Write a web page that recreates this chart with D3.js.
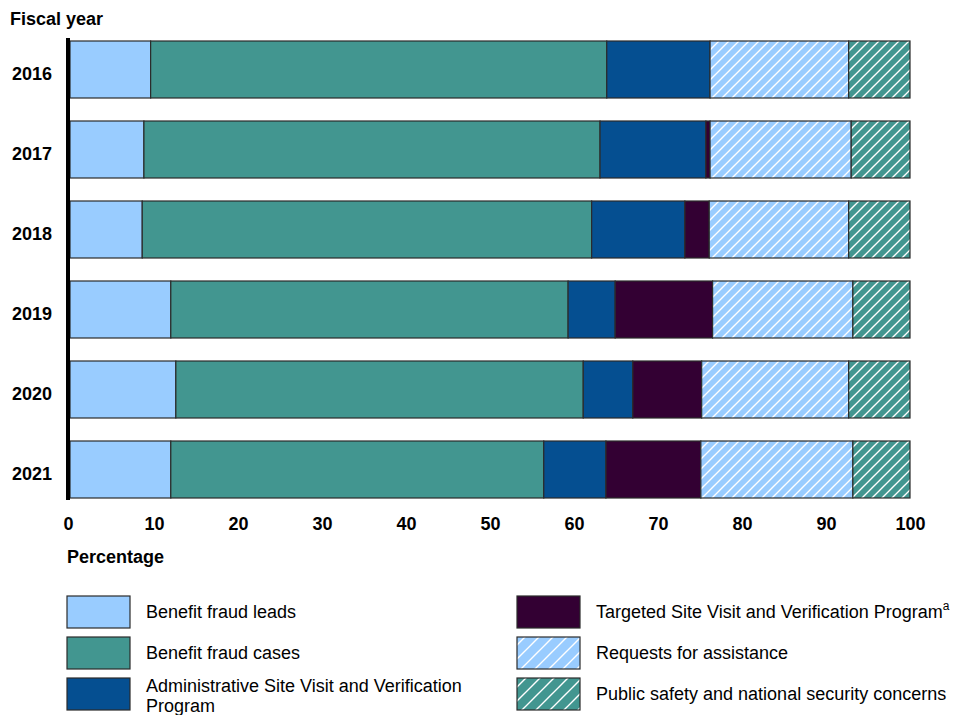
<!DOCTYPE html>
<html><head><meta charset="utf-8">
<script src="https://cdn.jsdelivr.net/npm/d3@7"></script>
<style>body{margin:0;background:#fff;} text{font-family:"Liberation Sans",Arial,sans-serif;}</style>
</head><body><svg id="c" width="978" height="715"></svg>
<script>
const years = ["2016","2017","2018","2019","2020","2021"];
const seriesNames = ["Benefit fraud leads","Benefit fraud cases","Administrative Site Visit and Verification Program","Targeted Site Visit and Verification Program","Requests for assistance","Public safety and national security concerns"];
const fraudLeads = [9.6, 8.8, 8.6, 12.0, 12.6, 12.0];
const fraudCases = [54.3, 54.3, 53.5, 47.3, 48.5, 44.4];
const adminSite = [12.3, 12.6, 11.1, 5.6, 5.9, 7.4];
const targetedSite = [0.0, 0.5, 2.9, 11.6, 8.2, 11.3];
const requestsAssist = [16.5, 16.8, 16.6, 16.7, 17.5, 18.1];
const publicSafety = [7.3, 7.0, 7.3, 6.8, 7.3, 6.8];
const xTicks = [0,10,20,30,40,50,60,70,80,90,100];

const colors = ["#99ccff","#429690","#054f91","#330033","#99ccff","#429690"];
const hatched = [false,false,false,false,true,true];
const seriesVals = [fraudLeads, fraudCases, adminSite, targetedSite, requestsAssist, publicSafety];

const svg = d3.select("#c");
const defs = svg.append("defs");
function makePattern(id, color, s){
  const p = defs.append("pattern").attr("id",id).attr("patternUnits","userSpaceOnUse")
    .attr("width",s).attr("height",s);
  p.append("rect").attr("width",s).attr("height",s).attr("fill",color);
  p.append("path").attr("d",`M-1,1 l2,-2 M0,${s} l${s},-${s} M${s-1},${s+1} l2,-2`)
    .attr("stroke","#fff").attr("stroke-width",1.4);
}
[4,5].forEach(i=>{ makePattern("h"+i, colors[i], 10); makePattern("L"+i, colors[i], 14); });

const table = years.map((y,j)=>{
  const row = {year:y};
  seriesNames.forEach((s,i)=>row[s]=seriesVals[i][j]);
  return row;
});
const stack = d3.stack().keys(seriesNames)(table);

const x = d3.scaleLinear().domain([0,100]).range([70,910]);
const y = d3.scaleBand().domain(years).range([41,498]).paddingInner(0.2875).paddingOuter(0);

stack.forEach((layer,i)=>{
  svg.append("g").selectAll("rect").data(layer.filter(d=>d[1]-d[0]>0)).join("rect")
    .attr("x",d=>x(d[0])).attr("width",d=>x(d[1])-x(d[0]))
    .attr("y",d=>y(d.data.year)).attr("height",y.bandwidth())
    .attr("fill",hatched[i]?"url(#h"+i+")":colors[i])
    .attr("stroke","#2b2b2b").attr("stroke-width",1.2);
});

// axis line
svg.append("line").attr("x1",68).attr("x2",68).attr("y1",38).attr("y2",500)
  .attr("stroke","#000").attr("stroke-width",4);

// x tick labels
const xAxis = d3.axisBottom(x).tickValues(xTicks).tickSize(0).tickFormat(d3.format("d"));
const gx = svg.append("g").attr("transform","translate(0,514)").call(xAxis);
gx.select(".domain").remove();
gx.selectAll("text").attr("font-size",18).attr("font-weight","bold").attr("fill","#000")
  .attr("font-family","Liberation Sans, Arial, sans-serif");
gx.selectAll(".tick").filter(d=>d===0).select("text").attr("dx",-2);

// y labels
const yAxis = d3.axisLeft(y).tickSize(0);
const gy = svg.append("g").attr("transform","translate(52,5)").call(yAxis);
gy.select(".domain").remove();
gy.selectAll("text").attr("font-size",18).attr("font-weight","bold").attr("fill","#000")
  .attr("font-family","Liberation Sans, Arial, sans-serif").attr("x",0);

svg.append("text").attr("x",10).attr("y",25).attr("font-size",18).attr("font-weight","bold").text("Fiscal year");
svg.append("text").attr("x",67).attr("y",563).attr("font-size",18).attr("font-weight","bold").text("Percentage");

// legend
const legPos = [[67,596],[67,637],[67,678],[517,596],[517,637],[517,678]];
seriesNames.forEach((s,i)=>{
  const [lx,ly] = legPos[i];
  svg.append("rect").attr("x",lx).attr("y",ly).attr("width",63).attr("height",32)
    .attr("fill",hatched[i]?"url(#L"+i+")":colors[i]).attr("stroke","#2b2b2b").attr("stroke-width",1.2);
  const t = svg.append("text").attr("x",lx+79).attr("font-size",18).attr("fill","#000");
  if(i===2){
    t.attr("y",ly+14);
    t.append("tspan").attr("x",lx+79).text("Administrative Site Visit and Verification");
    t.append("tspan").attr("x",lx+79).attr("dy",20).text("Program");
  } else {
    t.attr("y",ly+22).text(s);
    if(i===3) t.append("tspan").attr("font-size",12).attr("dy",-8).text("a");
  }
});
</script></body></html>
